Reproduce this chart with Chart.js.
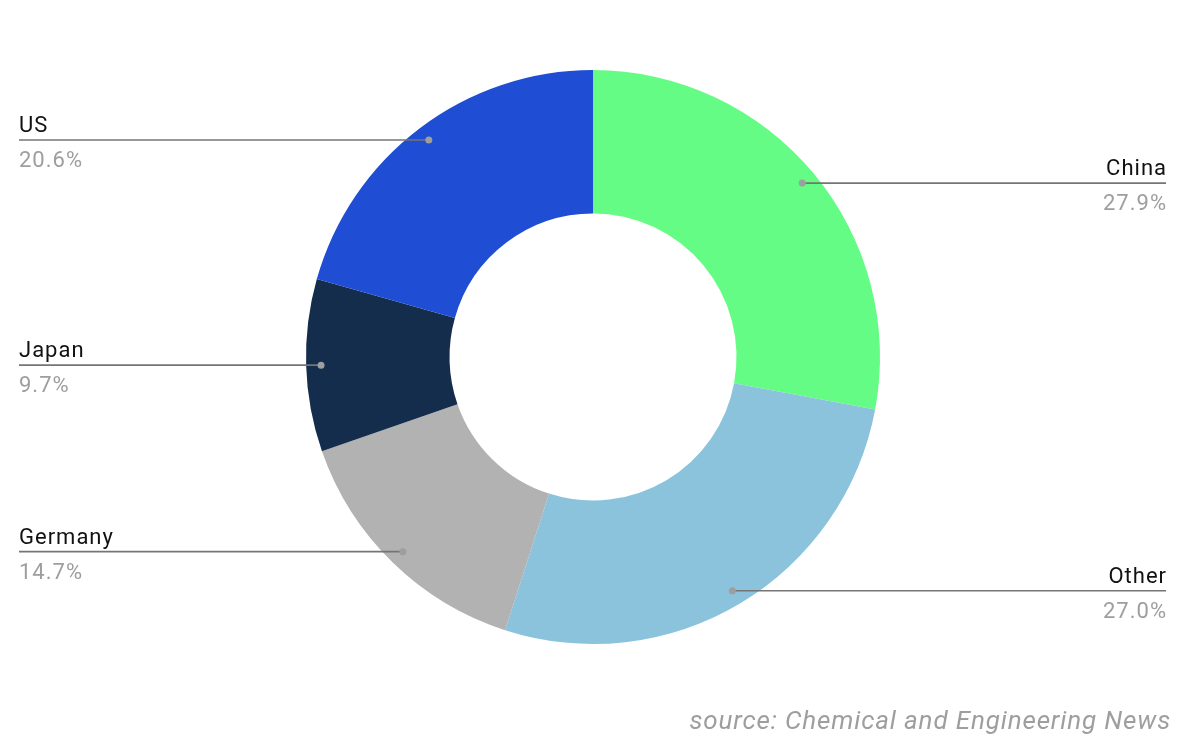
<!DOCTYPE html>
<html>
<head>
<meta charset="utf-8">
<script src="https://cdn.jsdelivr.net/npm/chart.js@4.4.1/dist/chart.umd.min.js"></script>
<style>
  html, body { margin: 0; padding: 0; background: #ffffff; }
  #wrap { width: 1200px; height: 742px; position: relative; }
</style>
</head>
<body>
<div id="wrap"><canvas id="chart"></canvas></div>
<script>
// data
const countries = ['China', 'Other', 'Germany', 'Japan', 'US'];
const shares = [27.9, 27.0, 14.7, 9.7, 20.6];
const sliceColors = ['#64fc84', '#8cc3dc', '#b2b2b2', '#142d4c', '#1f4dd4'];
const sourceNote = 'source: Chemical and Engineering News';

// leader lines + labels drawn beside each slice
const leaderLabels = {
  id: 'leaderLabels',
  afterDatasetsDraw(chart) {
    let ctx = chart.ctx;
    let meta = chart.getDatasetMeta(0);
    ctx.save();
    meta.data.forEach(function(arc, i) {
      let mid = (arc.startAngle + arc.endAngle) / 2;
      let r = arc.outerRadius * 0.948;
      let px = arc.x + Math.cos(mid) * r;
      let py = arc.y + Math.sin(mid) * r;
      let right = Math.cos(mid) > 0;
      let edge = right ? 1166 : 19;

      ctx.strokeStyle = '#757575';
      ctx.lineWidth = 1.6;
      ctx.beginPath();
      ctx.moveTo(px, py);
      ctx.lineTo(edge, py);
      ctx.stroke();

      ctx.fillStyle = '#9e9e9e';
      ctx.beginPath();
      ctx.arc(px, py, 3.5, 0, Math.PI * 2);
      ctx.fill();

      ctx.textAlign = right ? 'right' : 'left';
      ctx.textBaseline = 'alphabetic';
      ctx.font = '22px Roboto';
      ctx.letterSpacing = '1px';
      let shift = right ? 1 : 0; // trailing spacing on right-aligned text
      ctx.fillStyle = '#111111';
      ctx.fillText(countries[i], edge + shift, py - 8);
      ctx.fillStyle = '#9e9e9e';
      ctx.fillText(shares[i].toFixed(1) + '%', edge + shift, py + 27);
    });

    ctx.font = 'italic 26px Roboto';
    ctx.letterSpacing = '0.85px';
    ctx.fillStyle = '#9e9e9e';
    ctx.textAlign = 'right';
    ctx.fillText(sourceNote, 1171, 729);
    ctx.restore();
  }
};

let ctx = document.getElementById('chart').getContext('2d');
new Chart(ctx, {
  type: 'doughnut',
  data: {
    labels: countries,
    datasets: [{
      data: shares,
      backgroundColor: sliceColors,
      borderWidth: 0
    }]
  },
  options: {
    responsive: true,
    maintainAspectRatio: false,
    animation: false,
    cutout: '50%',
    layout: { padding: { top: 70, bottom: 98, left: 0, right: 14 } },
    plugins: {
      legend: { display: false },
      tooltip: { enabled: false }
    }
  },
  plugins: [leaderLabels]
});
</script>
</body>
</html>
